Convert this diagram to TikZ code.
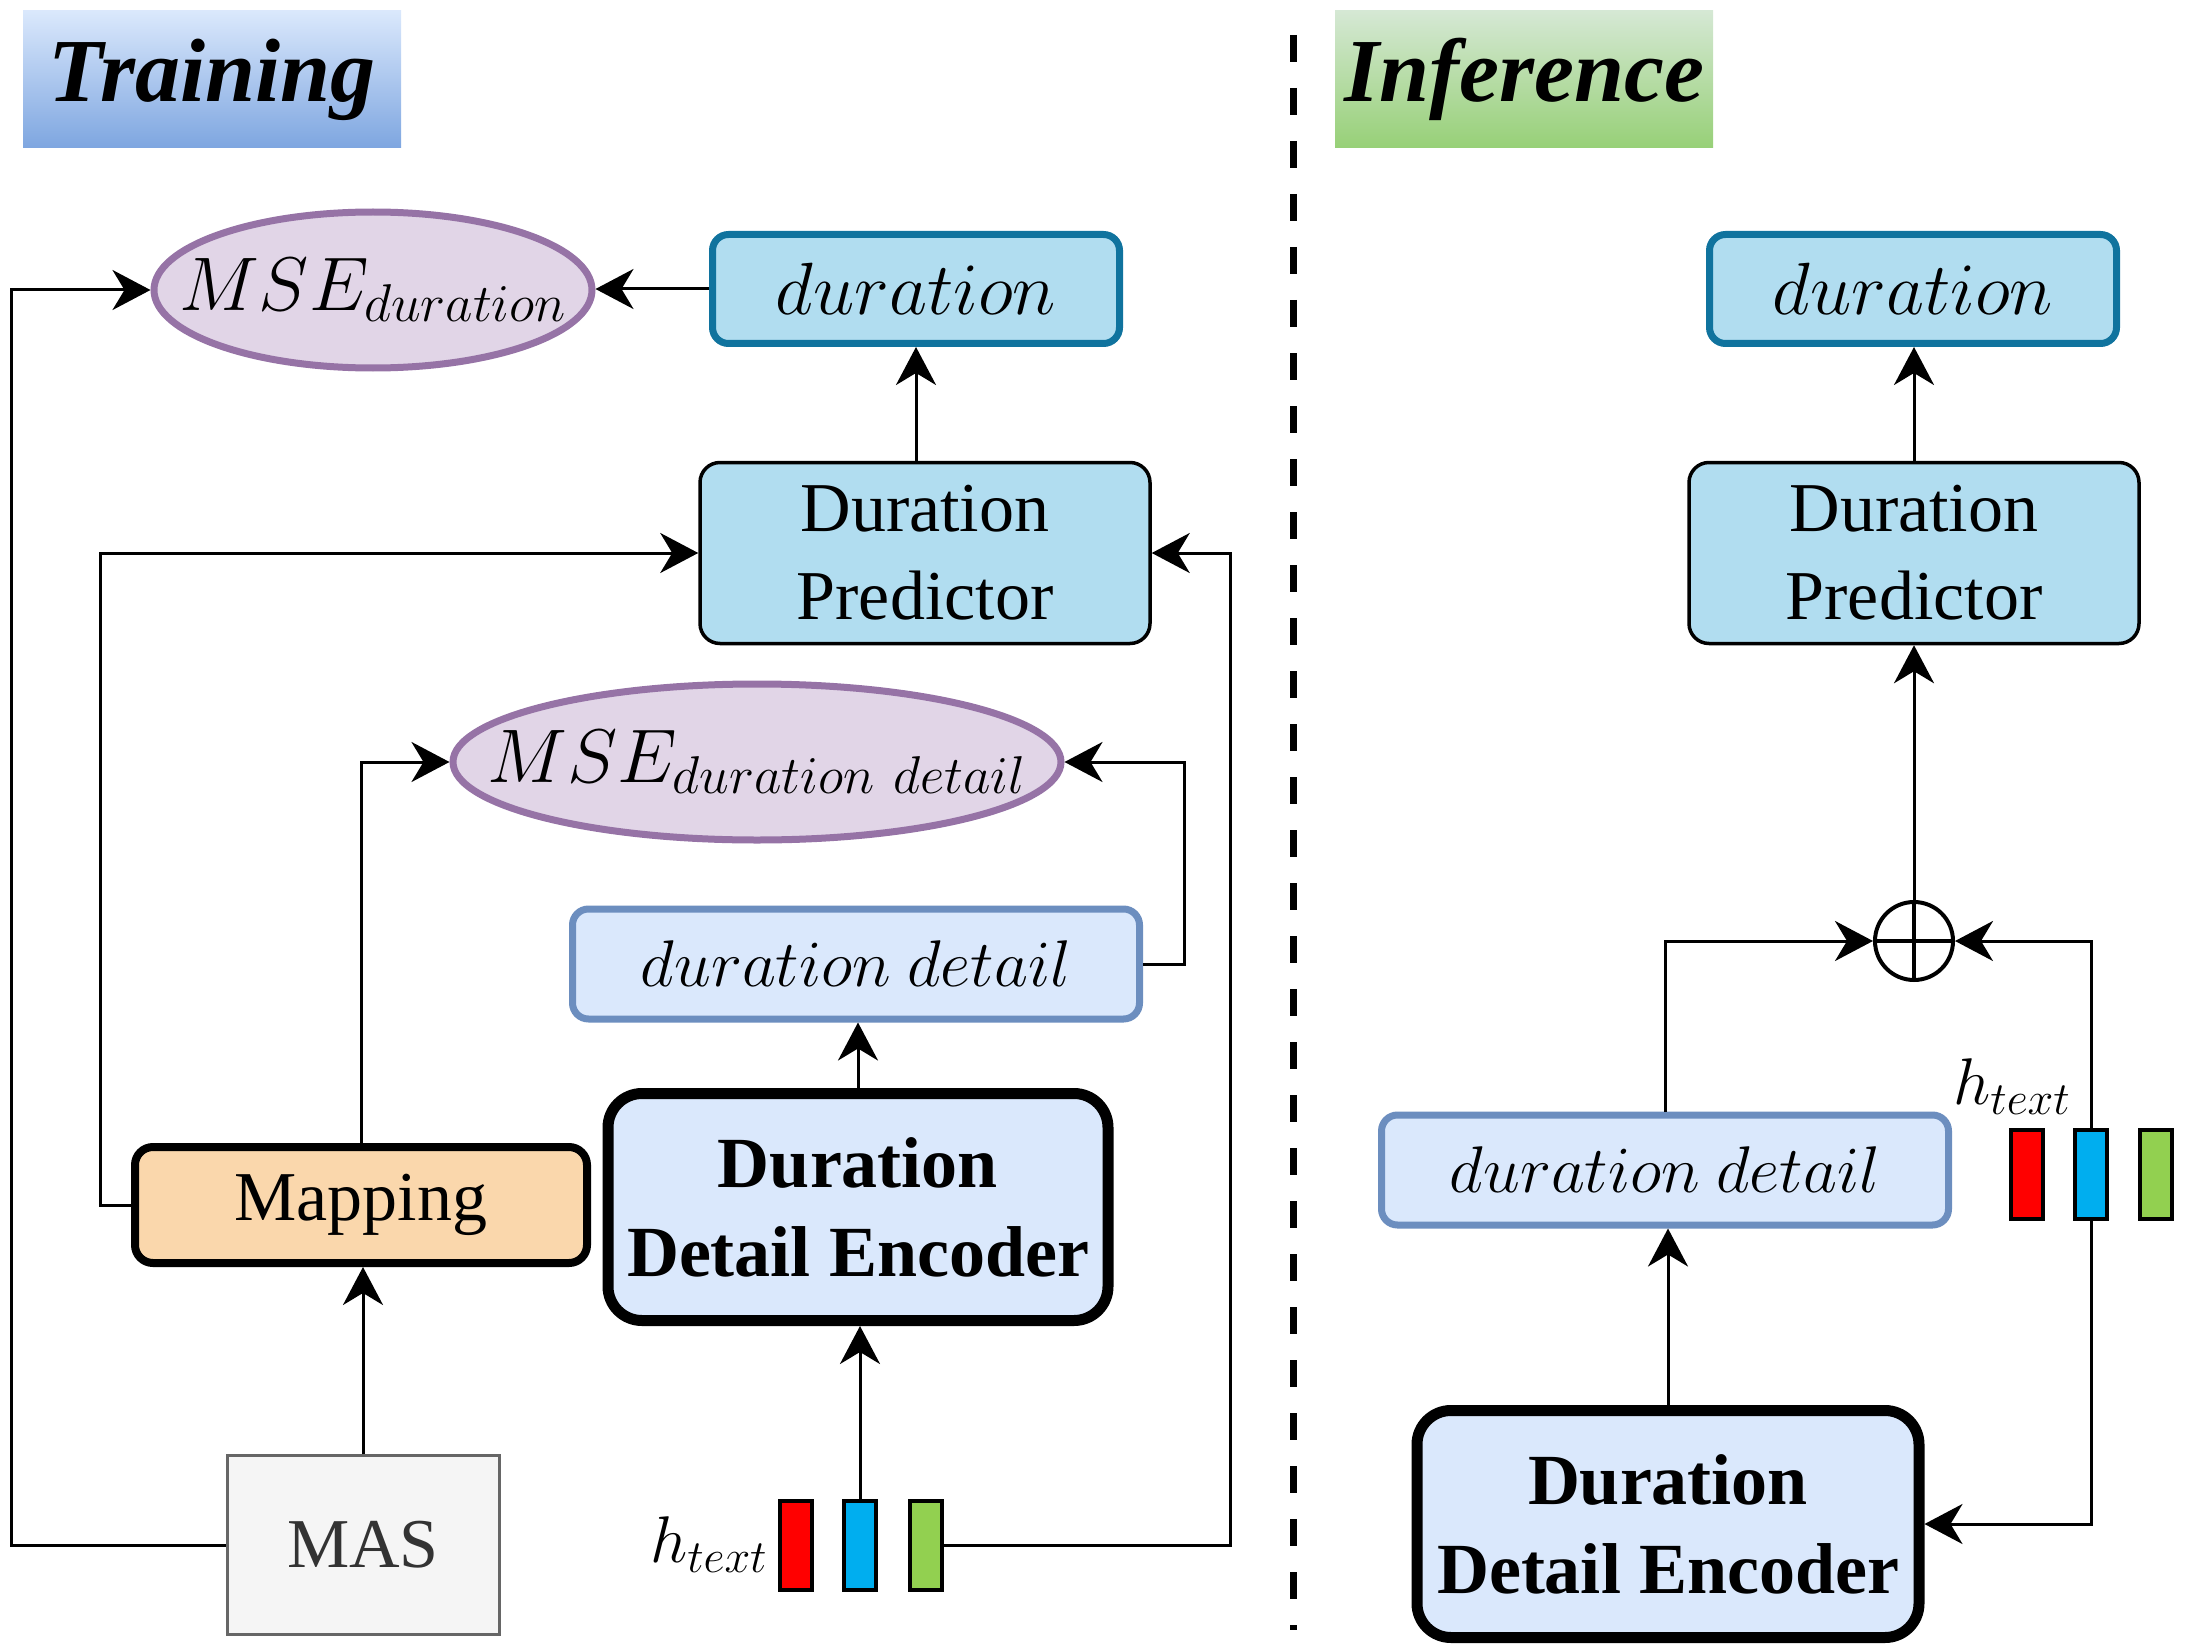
\RequirePackage{fix-cm}
\documentclass[tikz,border=0pt]{standalone}
\usepackage{fontspec}
\setmainfont{Liberation Serif}
\usetikzlibrary{shapes.geometric,arrows.meta}
\definecolor{mseFill}{HTML}{E1D5E7}
\definecolor{mseStroke}{HTML}{9673A6}
\definecolor{durFill}{HTML}{B1DDF0}
\definecolor{durStroke}{HTML}{10739E}
\definecolor{ddFill}{HTML}{DAE8FC}
\definecolor{ddStroke}{HTML}{6C8EBF}
\definecolor{mapFill}{HTML}{FAD7AC}
\definecolor{masFill}{HTML}{F5F5F5}
\definecolor{masStroke}{HTML}{666666}
\definecolor{masText}{HTML}{333333}
\definecolor{trTop}{HTML}{DAE8FC}
\definecolor{trBot}{HTML}{7EA6E0}
\definecolor{infTop}{HTML}{D5E8D4}
\definecolor{infBot}{HTML}{97D077}
\definecolor{barRed}{HTML}{FF0000}
\definecolor{barBlue}{HTML}{00AEEF}
\definecolor{barGreen}{HTML}{92D050}
\begin{document}
\begin{tikzpicture}[x=0.5pt,y=-0.5pt,
  hdr/.style={inner sep=0pt, minimum height=68.5pt, font=\fontsize{45}{50}\selectfont\bfseries\itshape},
  durbox/.style={draw=durStroke, fill=durFill, line width=3.5pt, rounded corners=8pt, minimum width=203.5pt, minimum height=54.5pt, inner sep=0pt, font=\fontsize{37}{44}\selectfont},
  dpbox/.style={draw=black, fill=durFill, line width=1.75pt, rounded corners=10pt, minimum width=225pt, minimum height=90.5pt, inner sep=0pt, align=center, font=\fontsize{35}{44}\selectfont},
  mse/.style={ellipse, draw=mseStroke, fill=mseFill, line width=3.5pt, inner sep=0pt, minimum height=78pt, font=\fontsize{38}{44}\selectfont},
  ddbox/.style={draw=ddStroke, fill=ddFill, line width=3.5pt, rounded corners=8pt, minimum width=283.5pt, minimum height=55pt, inner sep=0pt, font=\fontsize{33}{40}\selectfont},
  ddebox/.style={draw=black, fill=ddFill, line width=5.5pt, rounded corners=17pt, minimum width=250pt, minimum height=113.5pt, inner sep=0pt, align=center, font=\fontsize{36}{44.5}\selectfont\bfseries},
  mapbox/.style={draw=black, fill=mapFill, line width=4pt, rounded corners=9pt, minimum width=226pt, minimum height=58pt, inner sep=0pt, font=\fontsize{35}{44}\selectfont},
  masbox/.style={draw=masStroke, fill=masFill, line width=1.5pt, minimum width=136pt, minimum height=89.5pt, inner sep=0pt, text=masText, font=\fontsize{35}{44}\selectfont},
  bar/.style={draw=black, line width=2pt, minimum width=16pt, minimum height=44.5pt, inner sep=0pt},
  hlabel/.style={inner sep=0pt, font=\fontsize{33}{40}\selectfont},
  opl/.style={circle, draw=black, line width=2pt, minimum size=39pt, inner sep=0pt},
  arr/.style={line width=1.5pt, -{Stealth[length=19pt,width=20pt,inset=6pt]}},
  divider/.style={line width=3.5pt, dash pattern=on 13.5pt off 13pt}
]
\useasboundingbox (0,0) rectangle (2185,1648);

% headers
\node[hdr, top color=trTop, bottom color=trBot, minimum width=189pt] (train) at (212,79.5) {\raisebox{-4.5pt}{Training}};
\node[hdr, top color=infTop, bottom color=infBot, minimum width=189pt] (infer) at (1524,79.5) {\raisebox{-4.5pt}{Inference}};

% divider
\coordinate (dtop) at (1293,35);
\coordinate (dbot) at (1293,1630);
\draw[divider] (dtop) -- (dbot);

% ---------------- Training ----------------
\node[mse, minimum width=219pt] (mse1) at (373,290) {\makebox[0pt]{$MSE_{duration}$}};
\node[durbox] (durT) at (916,289) {$duration$};
\node[dpbox] (dpT) at (925,553) {Duration\\Predictor};
\node[mse, minimum width=304pt] (mse2) at (757,762) {\makebox[0pt]{$MSE_{duration\ detail}$}};
\node[ddbox] (ddT) at (856,964) {$duration\ detail$};
\node[mapbox] (map) at (361,1205) {Mapping};
\node[ddebox] (ddeT) at (858,1207) {Duration\\Detail Encoder};
\node[masbox] (mas) at (363,1545) {MAS};
\node[bar, fill=barRed] (rT) at (796,1545) {};
\node[bar, fill=barBlue] (bT) at (860,1545) {};
\node[bar, fill=barGreen] (gT) at (926,1545) {};
\node[hlabel, anchor=east] (hT) at ([xshift=-5pt]rT.west) {$h_{text}$};

\coordinate (lxA) at (11,0);
\coordinate (lxB) at (100,0);
\coordinate (rxA) at (1230,0);
\coordinate (rxB) at (1184,0);

\draw[arr] (durT.west) -- (durT.west -| mse1.east);
\draw[arr] (mas.west) -- (mas.west -| lxA) |- (mse1.west);
\draw[arr] (durT.south |- dpT.north) -- (durT.south);
\draw[arr] (map.west) -- (map.west -| lxB) |- (dpT.west);
\draw[arr] (gT.east) -- (gT.east -| rxA) |- (dpT.east);
\draw[arr] (map.north) |- (mse2.west);
\draw[arr] (ddT.east) -- (ddT.east -| rxB) |- (mse2.east);
\draw[arr] (ddeT.north) -- (ddeT.north |- ddT.south);
\draw[arr] (mas.north) -- (mas.north |- map.south);
\draw[arr] (bT.north) -- (bT.north |- ddeT.south);

% ---------------- Inference ----------------
\node[durbox] (durI) at (1913,289) {$duration$};
\node[dpbox] (dpI) at (1914,553) {Duration\\Predictor};
\node[opl] (op) at (1914,941) {};
\draw[line width=2pt] (op.north) -- (op.south) (op.west) -- (op.east);
\node[ddbox] (ddI) at (1665,1170) {$duration\ detail$};
\node[bar, fill=barRed] (rI) at (2027,1174) {};
\node[bar, fill=barBlue] (bI) at (2091,1174) {};
\node[bar, fill=barGreen] (gI) at (2156,1174) {};
\node[hlabel] (hI) at (2012,1087) {$h_{text}$};
\node[ddebox, minimum width=251pt] (ddeI) at (1668,1524) {Duration\\Detail Encoder};

\draw[arr] (dpI.north) -- (dpI.north |- durI.south);
\draw[arr] (op.north) -- (op.north |- dpI.south);
\draw[arr] (ddI.north) |- (op.west);
\draw[arr] (bI.north) |- (op.east);
\draw[arr] (bI.south) |- (ddeI.east);
\draw[arr] (ddeI.north) -- (ddeI.north |- ddI.south);
\end{tikzpicture}
\end{document}
